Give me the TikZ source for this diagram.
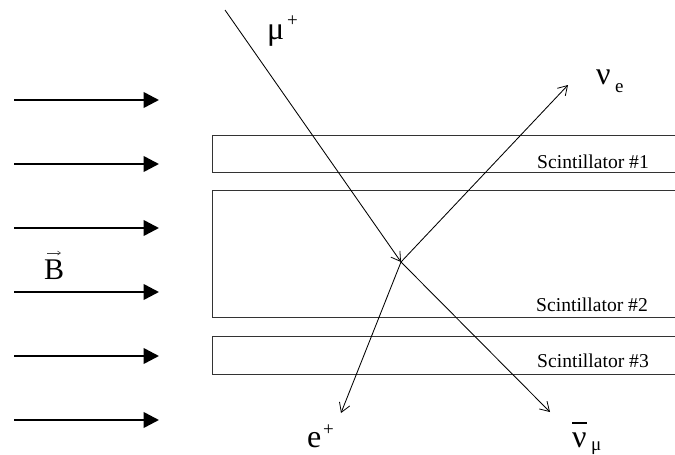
\documentclass[tikz,border=0pt]{standalone}
\usepackage{fontspec}
\setmainfont{Liberation Serif}
\usetikzlibrary{arrows.meta}
\tikzset{
  field/.style={line width=2.6pt,-{Triangle[length=15.5pt,width=15.5pt]}},
  track/.style={line width=0.85pt,-{Straight Barb[length=9pt,width=11pt,line width=0.8pt]}},
  slab/.style={line width=0.95pt,draw=black!80},
  lab/.style={inner sep=0pt,anchor=base west},
  big/.style={lab,font=\fontsize{32}{32}\selectfont},
  small/.style={lab,font=\fontsize{19}{19}\selectfont},
  scint/.style={lab,font=\fontsize{19.6}{20}\selectfont}
}
\begin{document}
\begin{tikzpicture}[x=1pt,y=-1pt]
\useasboundingbox (0,0) rectangle (675,455);
\foreach \i/\y in {1/100,2/164,3/228,4/292,5/356,6/420}{
  \coordinate (fs\i) at (14,\y);
  \coordinate (fe\i) at (159,\y);
  \draw[field] (fs\i) -- (fe\i);
}
\draw[slab] (675,135) -- (212,135) -- (212,172) -- (675,172);
\draw[slab] (675,190) -- (212,190) -- (212,317) -- (675,317);
\draw[slab] (675,336) -- (212,336) -- (212,374) -- (675,374);
\coordinate (mu) at (225,10);
\coordinate (v) at (401,262);
\coordinate (ne) at (568,85);
\coordinate (ep) at (341,413);
\coordinate (nm) at (550,412);
\draw[track] (mu) -- (v);
\draw[track] (v) -- (ne);
\draw[track] (v) -- (ep);
\draw[track] (v) -- (nm);
\node[big] (lmu) at (267,39) {μ};
\node[small] (lmup) at (287,27) {+};
\node[big] (lne) at (596,84) {ν};
\node[small] (lnes) at (615,92) {e};
\node[big] (lep) at (307,447) {e};
\node[small] (lepp) at (323,435) {+};
\node[big] (lnb) at (572,447) {ν};
\coordinate (bl) at (572,423);
\coordinate (br) at (587,423);
\draw[line width=1.1pt] (bl) -- (br);
\node[small] (lnbs) at (591,450) {μ};
\node[lab,font=\fontsize{30}{30}\selectfont] (lB) at (44,279) {B};
\coordinate (bvl) at (47,253);
\coordinate (bvr) at (61,253);
\draw[line width=0.8pt,draw=black!75,-{Straight Barb[length=3pt,width=4pt,line width=0.6pt]}] (bvl) -- (bvr);
\node[scint] (s1) at (537,168) {Scintillator \#1};
\node[scint] (s2) at (536,311) {Scintillator \#2};
\node[scint] (s3) at (537,367) {Scintillator \#3};
\end{tikzpicture}
\end{document}
